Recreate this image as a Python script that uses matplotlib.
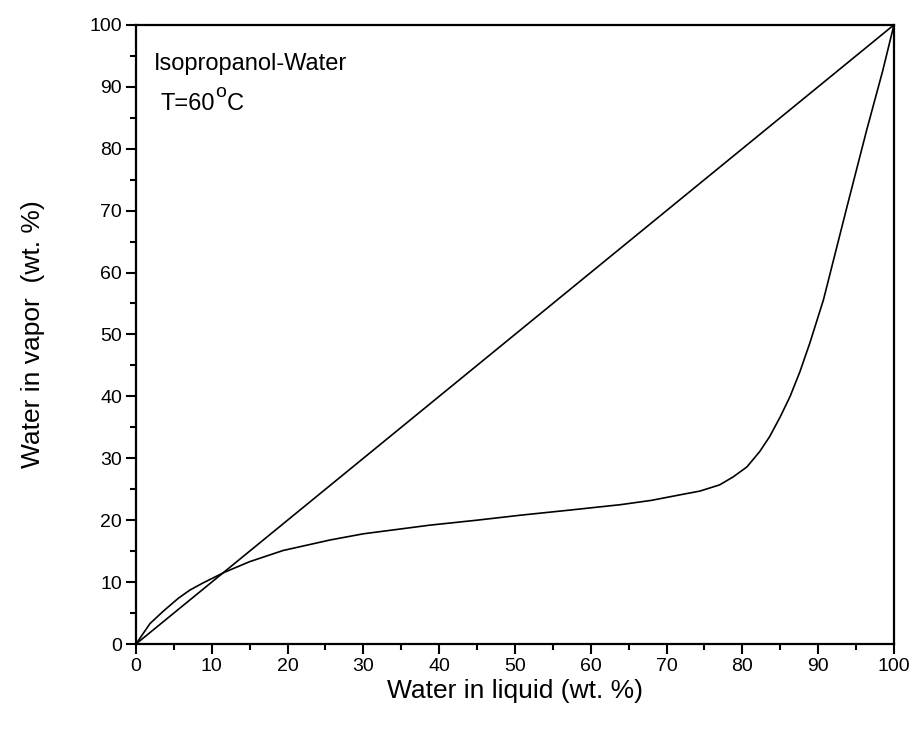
import matplotlib
matplotlib.use("Agg")
import matplotlib.pyplot as plt
from matplotlib.ticker import MultipleLocator
from matplotlib.transforms import offset_copy

plt.rcParams['font.family'] = ['Liberation Sans', 'DejaVu Sans']

# Equilibrium curve (water in liquid vs water in vapor, wt.%)
x_liquid = [0, 1.85, 3.6, 5.6, 7.1, 8.9, 11.7, 15, 19.4, 25.6, 30, 38.8, 45,
            50.7, 57, 63.9, 68, 71.8, 74.4, 77, 78.8, 80.6, 82.3, 83.6, 85,
            86.3, 87.6, 88.9, 90.7, 93.8, 96.4, 98.5, 100]
y_vapor = [0, 3.3, 5.3, 7.4, 8.7, 9.9, 11.6, 13.3, 15.1, 16.8, 17.8, 19.2, 20.0,
           20.8, 21.6, 22.5, 23.2, 24.1, 24.7, 25.7, 27.0, 28.6, 31.1, 33.5, 36.7,
           40.0, 44.0, 48.6, 55.6, 70.6, 83.0, 92.5, 100]
diag_x = [0, 100]
diag_y = [0, 100]

fig = plt.figure(figsize=(9.15, 7.31), dpi=100)
ax = fig.add_axes([0.1486, 0.119, 0.8284, 0.847])

ax.plot(diag_x, diag_y, color='black', lw=1.2)
ax.plot(x_liquid, y_vapor, color='black', lw=1.2, solid_joinstyle='round')

ax.set_xlim(0, 100)
ax.set_ylim(0, 100)
ax.xaxis.set_major_locator(MultipleLocator(10))
ax.xaxis.set_minor_locator(MultipleLocator(5))
ax.yaxis.set_major_locator(MultipleLocator(10))
ax.yaxis.set_minor_locator(MultipleLocator(5))

for s in ax.spines.values():
    s.set_linewidth(1.6)

ax.tick_params(which='major', direction='out', length=7, width=1.5,
               labelsize=14, pad=3, top=False, right=False)
ax.tick_params(which='minor', direction='out', length=4, width=1.5,
               top=False, right=False)

ax.set_xlabel('Water in liquid (wt. %)', fontsize=19, labelpad=3)
ax.set_ylabel('Water in vapor  (wt. %)', fontsize=19, labelpad=32)

ax.text(2.3, 92.7, 'Isopropanol-Water', fontsize=17, ha='left', va='baseline')

renderer = fig.canvas.get_renderer()
t1 = ax.text(3.2, 86.3, 'T=60', fontsize=17, ha='left', va='baseline')
w1 = t1.get_window_extent(renderer).width * 72 / fig.dpi
t2 = ax.text(3.2, 86.3, 'o', fontsize=14, ha='left', va='baseline',
             transform=offset_copy(ax.transData, fig=fig, x=w1 + 0.3, y=9.0, units='points'))
w2 = t2.get_window_extent(renderer).width * 72 / fig.dpi
ax.text(3.2, 86.3, 'C', fontsize=17, ha='left', va='baseline',
        transform=offset_copy(ax.transData, fig=fig, x=w1 + w2 + 0.6, y=0, units='points'))

fig.savefig('out.png', dpi=100)
